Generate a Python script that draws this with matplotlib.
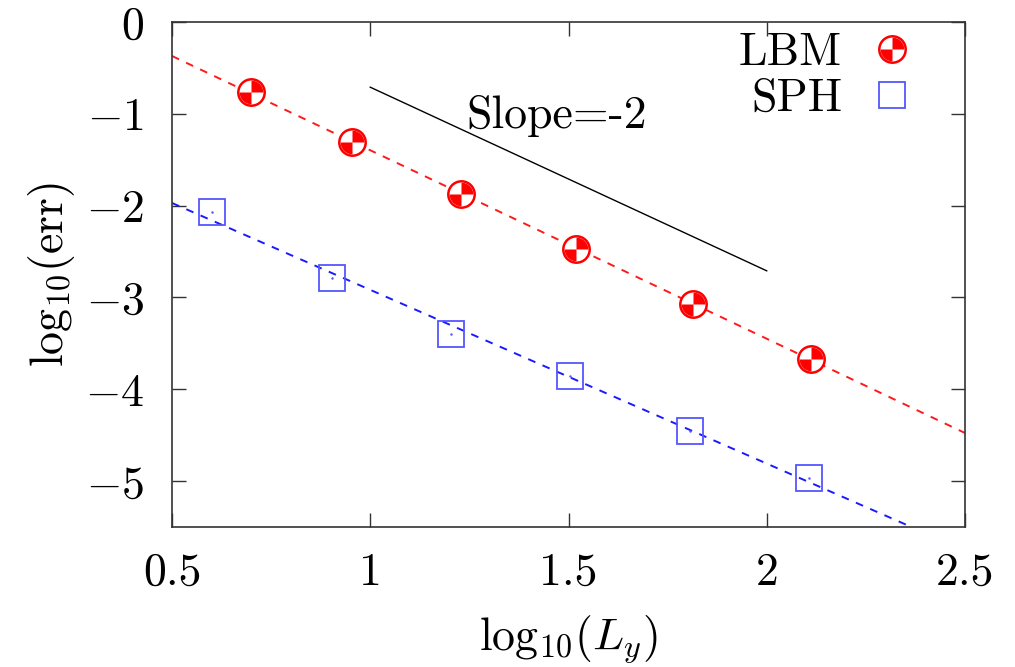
import matplotlib
matplotlib.use("Agg")
import matplotlib.pyplot as plt
import numpy as np
from matplotlib.path import Path
from matplotlib.legend_handler import HandlerTuple

plt.rcParams["font.family"] = "serif"
plt.rcParams["font.serif"] = ["cmr10", "DejaVu Serif"]
plt.rcParams["mathtext.fontset"] = "cm"
plt.rcParams["axes.unicode_minus"] = False

# log10 of domain height and error
lbm_x = [0.699, 0.954, 1.230, 1.519, 1.813, 2.111]
lbm_y = [-0.764, -1.31, -1.878, -2.467, -3.068, -3.668]
sph_x = [0.602, 0.903, 1.204, 1.505, 1.806, 2.107]
sph_y = [-2.074, -2.784, -3.395, -3.854, -4.454, -4.967]

# reference line of slope -2
ref_x = [1.0, 2.0]
ref_y = [-0.71, -2.71]

xticks = [0.5, 1, 1.5, 2, 2.5]
xticklabels = ["0.5", "1", "1.5", "2", "2.5"]
yticks = [0, -1, -2, -3, -4, -5]
yticklabels = ["0", "$-1$", "$-2$", "$-3$", "$-4$", "$-5$"]

FS = 33

# two filled quadrants (upper right, lower left) for the LBM marker
quad_marker = Path.make_compound_path(Path.wedge(0, 90), Path.wedge(180, 270))

fig = plt.figure(figsize=(10.15, 6.67), dpi=100)
ax = fig.add_axes([0.1695, 0.2099, 0.7812, 0.7571])

xs = np.array([0.5, 2.5])
c_lbm = np.polyfit(lbm_x, lbm_y, 1)
c_sph = np.polyfit(sph_x, sph_y, 1)
ax.plot(xs, np.polyval(c_lbm, xs), "--", color="#ff1a1a", lw=1.4, dashes=(4, 4))
ax.plot(xs, np.polyval(c_sph, xs), "--", color="#1a1aff", lw=1.4, dashes=(4, 4))
ax.plot(ref_x, ref_y, "-", color="black", lw=1.0)
ax.text(1.47, -1.02, "Slope=-2", fontsize=FS, ha="center", va="center")

ring, = ax.plot(lbm_x, lbm_y, "o", ls="none", ms=19, mfc="white", mec="red", mew=1.8)
quads, = ax.plot(lbm_x, lbm_y, ls="none", marker=quad_marker, ms=17, mfc="red", mec="none")
sph, = ax.plot(sph_x, sph_y, "s", ls="none", ms=19, mfc="none", mec="#5555ff", mew=1.3)
ax.plot(sph_x, sph_y, ".", ls="none", ms=1.5, color="#5555ff")

ax.set_xlim(0.5, 2.5)
ax.set_ylim(-5.5, 0)
ax.set_xticks(xticks)
ax.set_xticklabels(xticklabels)
ax.set_yticks(yticks)
ax.set_yticklabels(yticklabels)
ax.tick_params(direction="in", length=10, width=1, top=True, right=True,
               labelsize=FS, colors="#333333", labelcolor="black")
ax.tick_params(axis="x", pad=18)
ax.tick_params(axis="y", pad=20)
for s in ax.spines.values():
    s.set_color("#333333")
    s.set_linewidth(1.2)

ax.set_xlabel(r"$\mathrm{log}_{10}(L_y)$", fontsize=FS, labelpad=14)
ax.set_ylabel(r"$\mathrm{log}_{10}(\mathrm{err})$", fontsize=FS, labelpad=6)

ax.legend([(ring, quads), sph], ["LBM", "SPH"], handler_map={tuple: HandlerTuple(ndivide=1)},
          loc="upper right", bbox_to_anchor=(0.975, 1.03), frameon=False,
          markerfirst=False, fontsize=FS, handlelength=1.2, handletextpad=0.5,
          labelspacing=0.1, borderaxespad=0.15)

fig.savefig("out.png", dpi=100)
